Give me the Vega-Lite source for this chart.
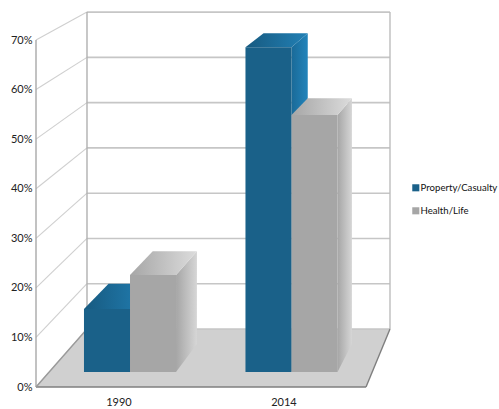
{
  "$schema": "https://vega.github.io/schema/vega-lite/v6.json",
  "width": 354,
  "height": 375,
  "autosize": "none",
  "padding": {"left": 36, "top": 12, "right": 109, "bottom": 22},
  "background": "white",
  "config": {
    "view": {"stroke": null},
    "font": "Lato",
    "axis": {"labelFont": "Lato", "labelColor": "#222222"},
    "legend": {"labelFont": "Lato", "labelColor": "#111111"}
  },
  "datasets": {
    "levels": [{"pct": 0}, {"pct": 10}, {"pct": 20}, {"pct": 30}, {"pct": 40}, {"pct": 50}, {"pct": 60}, {"pct": 70}],
    "bars": [
      {"year": 1990, "series": "Property/Casualty", "value": 13},
      {"year": 1990, "series": "Health/Life", "value": 20},
      {"year": 2014, "series": "Property/Casualty", "value": 67},
      {"year": 2014, "series": "Health/Life", "value": 53}
    ]
  },
  "layer": [
    {
      "description": "Floor of the box, between its front and back edges",
      "data": {"name": "levels"},
      "transform": [
        {"filter": "datum.pct === 0"},
        {"calculate": "[0, 1]", "as": "d"},
        {"flatten": ["d"]},
        {"calculate": "11.7 * datum.d", "as": "fy"},
        {"calculate": "51 * datum.d", "as": "fl"},
        {"calculate": "330 + 24 * datum.d", "as": "fr"}
      ],
      "mark": {"type": "area", "orient": "horizontal", "color": "#d0d0d0"},
      "encoding": {
        "y": {
          "field": "fy",
          "type": "quantitative",
          "scale": {"domain": [0, 75.65], "nice": false, "zero": false},
          "axis": {
            "title": null,
            "values": [0, 10, 20, 30, 40, 50, 60, 70],
            "labelExpr": "datum.value + '%'",
            "domain": false,
            "ticks": false,
            "grid": false,
            "labelFontSize": 11,
            "labelPadding": 4
          }
        },
        "x": {
          "field": "fl",
          "type": "quantitative",
          "scale": {"domain": [0, 354], "nice": false, "zero": false},
          "axis": {
            "title": null,
            "values": [82.5, 247.5],
            "labelExpr": "datum.value < 150 ? '1990' : '2014'",
            "domain": false,
            "ticks": false,
            "grid": false,
            "labelFontSize": 11,
            "labelPadding": 9
          }
        },
        "x2": {"field": "fr"}
      }
    },
    {
      "description": "Gridlines along the back wall",
      "data": {"name": "levels"},
      "transform": [{"calculate": "11.7 + datum.pct * 0.9133", "as": "by"}, {"calculate": "51", "as": "xa"}, {"calculate": "354", "as": "xb"}],
      "mark": {"type": "rule", "color": "#c6c6c6", "strokeWidth": 1.6},
      "encoding": {
        "x": {"field": "xa", "type": "quantitative"},
        "x2": {"field": "xb"},
        "y": {"field": "by", "type": "quantitative"}
      }
    },
    {
      "description": "Gridlines running back along the side wall",
      "data": {"name": "levels"},
      "transform": [{"calculate": "11.7 + datum.pct * 0.9133", "as": "by"}, {"calculate": "0", "as": "xa"}, {"calculate": "51", "as": "xb"}],
      "mark": {"type": "rule", "color": "#cfcfcf", "strokeWidth": 1.1},
      "encoding": {
        "x": {"field": "xa", "type": "quantitative"},
        "x2": {"field": "xb"},
        "y": {"field": "pct", "type": "quantitative"},
        "y2": {"field": "by"}
      }
    },
    {
      "description": "Vertical corners of the box and the outer floor edges",
      "data": {"values": [
        {"edge": "front-left", "xa": 0, "xb": 0, "ya": 0, "yb": 70, "shade": "#a8a8a8"},
        {"edge": "back-left", "xa": 51, "xb": 51, "ya": 11.7, "yb": 75.65, "shade": "#b0b0b0"},
        {"edge": "back-right", "xa": 354, "xb": 354, "ya": 11.7, "yb": 75.65, "shade": "#bdbdbd"},
        {"edge": "floor-front", "xa": 0, "xb": 330, "ya": 0, "yb": 0, "shade": "#7f7f7f"},
        {"edge": "floor-right", "xa": 330, "xb": 354, "ya": 0, "yb": 11.7, "shade": "#7f7f7f"},
        {"edge": "floor-left", "xa": 0, "xb": 51, "ya": 0, "yb": 11.7, "shade": "#9a9a9a"}
      ]},
      "mark": {"type": "rule", "strokeWidth": 1.4},
      "encoding": {
        "x": {"field": "xa", "type": "quantitative"},
        "x2": {"field": "xb"},
        "y": {"field": "ya", "type": "quantitative"},
        "y2": {"field": "yb"},
        "stroke": {"field": "shade", "type": "nominal", "scale": null, "legend": null}
      }
    },
    {
      "description": "Columns: every face is projected from year, series and value",
      "data": {"name": "bars"},
      "transform": [
        {"calculate": "[0.26, 0.74]", "as": "d"},
        {"flatten": ["d"]},
        {"calculate": "0.25 + 0.5 * (datum.year === 1990 ? 0 : 1) + (datum.series === 'Health/Life' ? 0 : -0.1425)", "as": "ul"},
        {"calculate": "datum.ul + 0.1425", "as": "ur"},
        {"calculate": "51 * datum.d * (1 - datum.ul) + (330 + 24 * datum.d) * datum.ul + 3.1 * (datum.d - 0.26)", "as": "xl"},
        {"calculate": "51 * datum.d * (1 - datum.ur) + (330 + 24 * datum.d) * datum.ur + 3.1 * (datum.d - 0.26)", "as": "xr"},
        {"calculate": "11.7 * datum.d", "as": "ybase"},
        {"calculate": "datum.ybase + datum.value * (1 - 0.0867 * datum.d)", "as": "ytop"},
        {"calculate": "datum.year + datum.series", "as": "bar"}
      ],
      "layer": [
        {
          "transform": [{"filter": "datum.series === 'Property/Casualty'"}],
          "mark": {"type": "area", "orient": "vertical", "fill": {"x1": 0, "y1": 0, "x2": 1, "y2": 0, "gradient": "linear", "stops": [{"offset": 0, "color": "#1a6a98"}, {"offset": 1, "color": "#2284bb"}]}},
          "encoding": {
            "x": {"field": "xr", "type": "quantitative"},
            "y": {"field": "ytop", "type": "quantitative"},
            "y2": {"field": "ybase"},
            "detail": {"field": "bar"}
          }
        },
        {
          "transform": [{"filter": "datum.series === 'Health/Life'"}],
          "mark": {"type": "area", "orient": "vertical", "fill": {"x1": 0, "y1": 0, "x2": 1, "y2": 0, "gradient": "linear", "stops": [{"offset": 0, "color": "#a6a6a6"}, {"offset": 1, "color": "#d6d6d6"}]}},
          "encoding": {
            "x": {"field": "xr", "type": "quantitative"},
            "y": {"field": "ytop", "type": "quantitative"},
            "y2": {"field": "ybase"},
            "detail": {"field": "bar"}
          }
        },
        {
          "transform": [{"filter": "datum.series === 'Property/Casualty'"}],
          "mark": {"type": "area", "orient": "horizontal", "fill": {"x1": 0, "y1": 0, "x2": 1, "y2": 0, "gradient": "linear", "stops": [{"offset": 0, "color": "#175a80"}, {"offset": 1, "color": "#2280b5"}]}},
          "encoding": {
            "y": {"field": "ytop", "type": "quantitative"},
            "x": {"field": "xl", "type": "quantitative"},
            "x2": {"field": "xr"},
            "detail": {"field": "bar"}
          }
        },
        {
          "transform": [{"filter": "datum.series === 'Health/Life'"}],
          "mark": {"type": "area", "orient": "horizontal", "fill": {"x1": 0, "y1": 0, "x2": 1, "y2": 0, "gradient": "linear", "stops": [{"offset": 0, "color": "#a6a6a6"}, {"offset": 1, "color": "#dcdcdc"}]}},
          "encoding": {
            "y": {"field": "ytop", "type": "quantitative"},
            "x": {"field": "xl", "type": "quantitative"},
            "x2": {"field": "xr"},
            "detail": {"field": "bar"}
          }
        },
        {
          "transform": [{"filter": "datum.d === 0.26"}],
          "mark": {"type": "rect"},
          "encoding": {
            "x": {"field": "xl", "type": "quantitative"},
            "x2": {"field": "xr"},
            "y": {"field": "ytop", "type": "quantitative"},
            "y2": {"field": "ybase"},
            "color": {
              "field": "series",
              "type": "nominal",
              "scale": {"domain": ["Property/Casualty", "Health/Life"], "range": ["#1a6189", "#a6a6a6"]},
              "legend": {
                "title": null,
                "orient": "none",
                "legendX": 375,
                "legendY": 171,
                "symbolType": "square",
                "symbolSize": 50,
                "labelFontSize": 9.6,
                "rowPadding": 12,
                "labelOffset": 0
              }
            }
          }
        }
      ]
    }
  ],
  "resolve": {"scale": {"stroke": "independent"}}
}
